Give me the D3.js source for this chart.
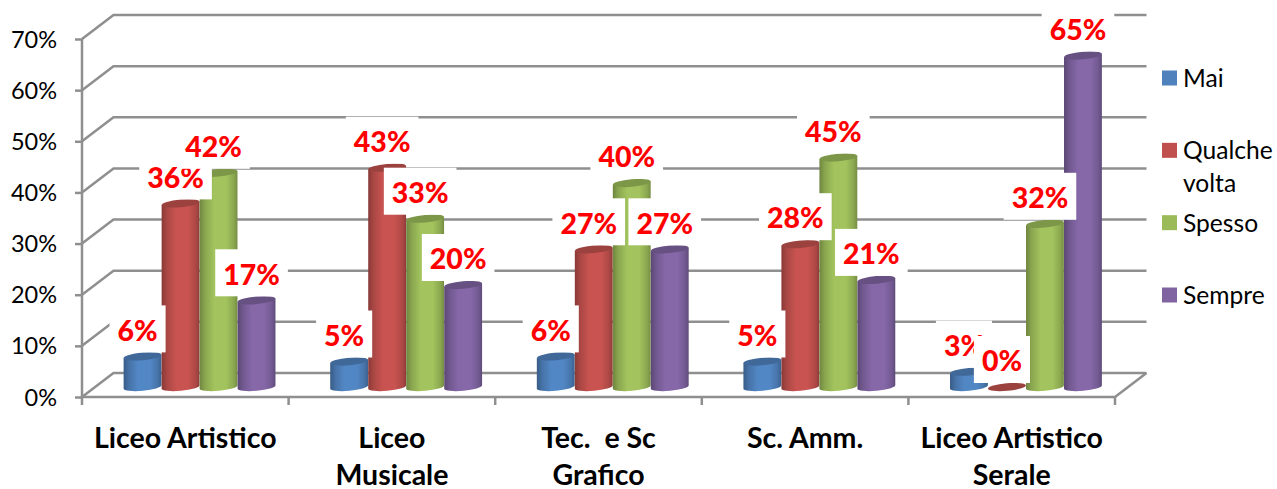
<!DOCTYPE html>
<html><head><meta charset="utf-8">
<script src="https://cdn.jsdelivr.net/npm/d3@7/dist/d3.min.js"></script>
<style>html,body{margin:0;padding:0;background:#fff;overflow:hidden}svg{display:block}text{font-family:Lato,"Open Sans",sans-serif;white-space:pre}</style>
</head><body><svg id="c" width="1277" height="489"></svg>
<script>
const categories=["Liceo Artistico","Liceo|Musicale","Tec.  e Sc|Grafico","Sc. Amm.","Liceo Artistico|Serale"];
const seriesNames=["Mai","Qualche|volta","Spesso","Sempre"];
const seriesColors=["#4F81BD","#C0504D","#9BBB59","#8064A2"];
const mai=[6,5,6,5,3];
const qualcheVolta=[36,43,27,28,0];
const spesso=[42,33,40,45,32];
const sempre=[17,20,27,21,65];
const seriesValues=[mai,qualcheVolta,spesso,sempre];
const yTicks=[0,10,20,30,40,50,60,70];

const svg=d3.select("#c"), defs=svg.append("defs");
const left=82,right=1115,depthX=31.5,depthY=24,grid="#8f8f8f";
const yFront=d3.scaleLinear().domain([0,70]).range([397,39]);
const yBars=d3.scaleLinear().domain([0,70]).range([387,30]);
const x0=d3.scaleBand().domain(categories).range([left,right]);
const barW=38;
const x1=d3.scaleBand().domain(d3.range(4)).range([-barW*2,barW*2]);
const barShift=depthX/2-1.5;

// walls
const wall=svg.append("g").attr("fill","none").attr("stroke",grid).attr("stroke-width",2.5);
yTicks.forEach(t=>{const y=yFront(t);
  wall.append("path").attr("d",`M${left},${y}L${left+depthX},${y-depthY}L${right+depthX},${y-depthY}`);});
wall.append("path").attr("d",`M${left},${yFront(0)}L${right},${yFront(0)}L${right+depthX},${yFront(0)-depthY}`);
// axes
const ay=svg.append("g").attr("transform",`translate(${left},0)`).call(d3.axisLeft(yFront).tickValues(yTicks).tickSize(7).tickFormat(d=>d+"%"));
ay.select(".domain").attr("stroke",grid).attr("stroke-width",2.5).attr("d",`M0,${yFront(0)}V${yFront(70)}`);
ay.selectAll("line").attr("stroke",grid).attr("stroke-width",2.5);
ay.selectAll("text").attr("font-size",23.5).attr("fill","#000").attr("x",-25).attr("dy","0.34em").attr("font-family","Lato");
const ticksX=[...categories.map(c=>x0(c)),right];
const ax=svg.append("g").attr("transform",`translate(0,${yFront(0)})`);
ax.selectAll("line").data(ticksX).join("line").attr("x1",d=>d).attr("x2",d=>d).attr("y1",0).attr("y2",8).attr("stroke",grid).attr("stroke-width",2.5);
categories.forEach(c=>{c.split("|").forEach((s,i)=>{
  svg.append("text").attr("x",x0(c)+x0.bandwidth()/2).attr("y",448+i*36.5).attr("text-anchor","middle")
   .attr("font-size",28.5).attr("font-weight",700).attr("fill","#000").text(s);});});

// gradients
seriesColors.forEach((col,i)=>{
  const g=defs.append("linearGradient").attr("id","g"+i);
  const c=d3.color(col);
  [[0,c.darker(.95)],[.14,c.darker(.35)],[.38,c.brighter(.12)],[.7,c.brighter(.12)],[.9,c.darker(.3)],[1,c.darker(.8)]].forEach(s=>
    g.append("stop").attr("offset",s[0]).attr("stop-color",s[1]));
});

// bars
const rx=barW/2,ry=3.8,tilt=-5,rad=tilt*Math.PI/180;
const dx=rx*Math.cos(rad),dy=rx*Math.sin(rad);
const bars=svg.append("g");
categories.forEach((c,ci)=>{
  seriesValues.forEach((vals,si)=>{
    const v=vals[ci];
    const cx=x0(c)+x0.bandwidth()/2+barShift+x1(si)+x1.bandwidth()/2;
    const yb=yBars(0),yt=yBars(v);
    const base=d3.color(seriesColors[si]);
    if(v>0){
      bars.append("path").attr("fill",`url(#g${si})`)
       .attr("d",`M${cx-dx},${yt-dy}L${cx-dx},${yb-dy}A${rx},${ry} ${tilt} 0 0 ${cx+dx},${yb+dy}L${cx+dx},${yt+dy}Z`);
    }
    bars.append("ellipse").attr("cx",cx).attr("cy",yt).attr("rx",rx).attr("ry",ry)
     .attr("transform",`rotate(${tilt} ${cx} ${yt})`).attr("fill",base.darker(.6));
  });
});

// value labels (series order: later boxes mask earlier ones)
const labels=svg.append("g");
seriesValues.forEach((vals,si)=>{
  categories.forEach((c,ci)=>{
    const v=vals[ci];
    const cx=x0(c)+x0.bandwidth()/2+barShift+x1(si)+x1.bandwidth()/2-5;
    const cy=yBars(v)-26;
    const g=labels.append("g");
    const r=g.append("rect").attr("fill","#fff");
    const t=g.append("text").attr("x",cx).attr("y",cy).attr("dy","0.36em").attr("text-anchor","middle")
      .attr("font-size",28.5).attr("font-weight",900).attr("fill","#f00").text(v+"%");
    const w=t.node().getComputedTextLength()+16;
    r.attr("x",cx-w/2).attr("y",cy-25).attr("width",w).attr("height",47);
  });
});

// legend
const leg=svg.append("g");
const legY=d3.scalePoint().domain(d3.range(4)).range([78,295]);
seriesNames.forEach((n,i)=>{
  leg.append("rect").attr("x",1162).attr("y",legY(i)-7.5).attr("width",15).attr("height",15).attr("fill",seriesColors[i]);
  n.split("|").forEach((s,j)=>leg.append("text").attr("x",1183).attr("y",legY(i)+j*33).attr("dy","0.36em")
    .attr("font-size",24.6).attr("fill","#000").text(s));
});
</script></body></html>
